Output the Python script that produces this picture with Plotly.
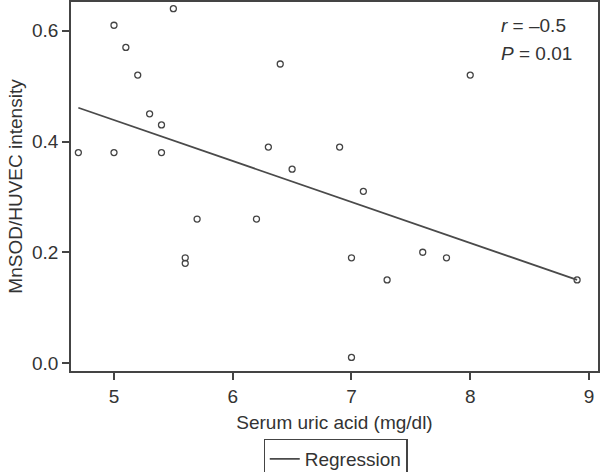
import plotly.graph_objects as go

# serum uric acid (mg/dl) and MnSOD/HUVEC intensity
uric_acid = [4.7, 5.0, 5.0, 5.1, 5.2, 5.3, 5.4, 5.4, 5.5, 5.6, 5.6, 5.7,
             6.2, 6.3, 6.4, 6.5, 6.9, 7.0, 7.0, 7.1, 7.3, 7.6, 7.8, 8.0, 8.9]
mnsod = [0.38, 0.61, 0.38, 0.57, 0.52, 0.45, 0.43, 0.38, 0.64, 0.19, 0.18, 0.26,
         0.26, 0.39, 0.54, 0.35, 0.39, 0.19, 0.01, 0.31, 0.15, 0.20, 0.19, 0.52, 0.15]

# regression line ends
reg_x = [4.7, 8.9]
reg_y = [0.461, 0.150]

x_ticks = [5, 6, 7, 8, 9]
y_ticks = [0.0, 0.2, 0.4, 0.6]
y_tick_text = ["0.0", "0.2", "0.4", "0.6"]

fig = go.Figure()
fig.add_trace(go.Scatter(x=uric_acid, y=mnsod, mode="markers", showlegend=False,
                         marker=dict(symbol="circle-open", size=6, color="#444",
                                     line=dict(width=1.3, color="#444"))))
fig.add_trace(go.Scatter(x=reg_x, y=reg_y, mode="lines", name="Regression",
                         line=dict(color="#4a4a4a", width=1.8)))

axis_style = dict(showline=True, linecolor="#444", linewidth=1.5, mirror=True,
                  ticks="outside", ticklen=7, tickcolor="#444", tickwidth=1.5,
                  showgrid=False, zeroline=False, automargin=False,
                  tickfont=dict(size=19, color="#333"))

fig.update_layout(
    width=600, height=472,
    margin=dict(l=71, r=2, t=2, b=101, autoexpand=False),
    plot_bgcolor="white", paper_bgcolor="white",
    font=dict(family="Liberation Sans, Arial, sans-serif", color="#333"),
    xaxis=dict(range=[4.638, 9.076], tickvals=x_ticks,
               title=dict(text="Serum uric acid (mg/dl)", font=dict(size=19), standoff=10),
               **axis_style),
    yaxis=dict(range=[-0.0145, 0.652], tickvals=y_ticks, ticktext=y_tick_text,
               title=dict(text="MnSOD/HUVEC intensity", font=dict(size=19), standoff=4),
               **axis_style),
    legend=dict(orientation="h", x=0.502, xanchor="center", y=-0.184, yanchor="top",
                bordercolor="#444", borderwidth=1.2, font=dict(size=19, color="#333")),
)

fig.add_annotation(x=0.812, y=0.935, xref="paper", yref="paper", xanchor="left", yanchor="middle",
                   text="<i>r</i> = \u20130.5", showarrow=False, font=dict(size=19, color="#333"))
fig.add_annotation(x=0.812, y=0.860, xref="paper", yref="paper", xanchor="left", yanchor="middle",
                   text="<i>P</i> = 0.01", showarrow=False, font=dict(size=19, color="#333"))

# page body has a default 8px margin; drop it so the figure sits at the corner
fig.write_html("out.html", config={"displayModeBar": False},
               post_script="document.body.style.margin='0';")
